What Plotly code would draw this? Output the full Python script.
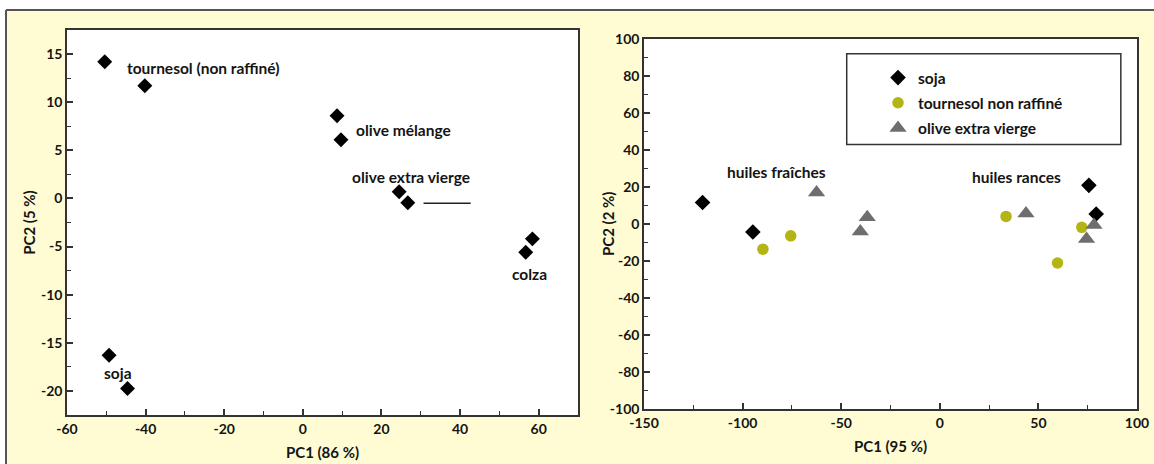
import plotly.graph_objects as go

# ---------------- data: left panel (PCA of oils) ----------------
left_pc1 = [-50.4, -40.2, 8.7, 9.7, 24.5, 26.7, 58.4, 56.7, -49.3, -44.6]
left_pc2 = [14.2, 11.7, 8.6, 6.1, 0.7, -0.45, -4.2, -5.6, -16.3, -19.75]

left_labels = ["tournesol (non raffiné)", "olive mélange", "olive extra vierge", "colza", "soja"]
left_label_x = [-25.4, 25.6, 27.6, 57.6, -47.1]
left_label_y = [13.55, 7.14, 2.18, -7.83, -18.16]

seg_x = [30.7, 42.7]
seg_y = [-0.5, -0.5]

left_xticks = [-60, -40, -20, 0, 20, 40, 60]
left_xticktext = ["-60", "-40", "-20", "0", "20", "40", "60"]
left_yticks = [-20, -15, -10, -5, 0, 5, 10, 15]
left_yticktext = ["-20", "-15", "-10", "-5", "0", "5", "10", "15"]

# ---------------- data: right panel (fresh vs rancid) ----------------
soja_pc1 = [-120.3, -94.8, 75.6, 79.3]
soja_pc2 = [11.6, -4.3, 20.9, 5.4]

tourn_pc1 = [-89.7, -75.6, 33.6, 72.0, 59.7]
tourn_pc2 = [-13.6, -6.4, 4.1, -1.8, -21.1]

olive_pc1 = [-62.5, -36.8, -40.3, 43.7, 78.2, 74.4]
olive_pc2 = [17.0, 3.6, -4.1, 5.7, -0.5, -8.1]

series_names = ["soja", "tournesol non raffiné", "olive extra vierge"]

right_labels = ["huiles fraîches", "huiles rances"]
right_label_x = [-82.6, 39.0]
right_label_y = [28.1, 25.4]

right_xticks = [-150, -100, -50, 0, 50, 100]
right_xticktext = ["-150", "-100", "-50", "0", "50", "100"]
right_yticks = [-100, -80, -60, -40, -20, 0, 20, 40, 60, 80, 100]
right_yticktext = ["-100", "-80", "-60", "-40", "-20", "0", "20", "40", "60", "80", "100"]

# ---------------- styling ----------------
FONT = "Lato"
TXT = "#141414"
FRAME = "#333333"
YELLOW = "#FFFCD4"
BLACK = "#000000"
OLIVE = "#B4B414"
GREY = "#6E6E6E"

W, H = 1154, 464
ML, MR, MT, MB = 67, 17, 30, 49
PW = W - ML - MR
PH = H - MT - MB


def px_x(p):
    return (p - ML) / PW


def px_y(p):
    return 1 - (p - MT) / PH


fig = go.Figure()

fig.add_trace(go.Scatter(
    x=left_pc1, y=left_pc2, mode="markers",
    marker=dict(symbol="diamond", size=11.5, color=BLACK),
    xaxis="x", yaxis="y", showlegend=False, hoverinfo="skip"))

fig.add_trace(go.Scatter(
    x=seg_x, y=seg_y, mode="lines",
    line=dict(color="#222222", width=1.5),
    xaxis="x", yaxis="y", showlegend=False, hoverinfo="skip"))

fig.add_trace(go.Scatter(
    x=soja_pc1, y=soja_pc2, mode="markers", name=series_names[0],
    legendgroup="g1",
    marker=dict(symbol="diamond", size=12, color=BLACK),
    xaxis="x2", yaxis="y2"))
fig.add_trace(go.Scatter(
    x=tourn_pc1, y=tourn_pc2, mode="markers", name=series_names[1],
    legendgroup="g2",
    marker=dict(symbol="circle", size=11.5, color=OLIVE),
    xaxis="x2", yaxis="y2"))
fig.add_trace(go.Scatter(
    x=olive_pc1, y=olive_pc2, mode="markers", name=series_names[2],
    legendgroup="g3",
    marker=dict(symbol="triangle-up", size=15, color=GREY),
    xaxis="x2", yaxis="y2"))

tickfont = dict(family=FONT, size=14, color=TXT, weight="bold")
titlefont = dict(family=FONT, size=15, color=TXT, weight="bold")
labelfont = dict(family=FONT, size=15.5, color=TXT, weight="bold")


def axis(rng, tickvals, ticktext, mdtick, domain, anchor, title, standoff):
    return dict(
        range=rng, domain=domain, anchor=anchor,
        showgrid=False, zeroline=False,
        showline=True, linecolor=FRAME, linewidth=1.5, mirror=True,
        ticks="inside", ticklen=6, tickwidth=1.5, tickcolor=FRAME,
        tickmode="array", tickvals=tickvals, ticktext=ticktext,
        minor=dict(tickmode="linear", dtick=mdtick, tick0=0, ticks="inside",
                   ticklen=4, tickwidth=1.2, tickcolor=FRAME),
        tickfont=tickfont,
        title=dict(text=title, font=titlefont, standoff=standoff),
    )


xd1 = [0, px_x(578)]
xd2 = [px_x(644), 1]
yd2 = [px_y(409), px_y(39)]

annotations = []
for t, x, y in zip(left_labels, left_label_x, left_label_y):
    annotations.append(dict(text=t, x=x, y=y, xref="x", yref="y", showarrow=False,
                            font=labelfont))
for t, x, y in zip(right_labels, right_label_x, right_label_y):
    annotations.append(dict(text=t, x=x, y=y, xref="x2", yref="y2", showarrow=False,
                            font=labelfont))
# right y-axis title placed precisely
annotations.append(dict(text="PC2 (2 %)", x=px_x(608), y=(yd2[0] + yd2[1]) / 2,
                        xref="paper", yref="paper", showarrow=False, textangle=-90,
                        xanchor="center", yanchor="middle", font=titlefont))

shapes = [
    # white page outside the yellow box (top strip and left strip)
    dict(type="rect", xref="paper", yref="paper", x0=px_x(-5), x1=px_x(W + 5),
         y0=px_y(10), y1=px_y(-5), fillcolor="white", line=dict(width=0), layer="below"),
    dict(type="rect", xref="paper", yref="paper", x0=px_x(-5), x1=px_x(6),
         y0=px_y(H + 5), y1=px_y(10), fillcolor="white", line=dict(width=0), layer="below"),
    # box border
    dict(type="line", xref="paper", yref="paper", x0=px_x(6), x1=px_x(W + 5),
         y0=px_y(10), y1=px_y(10), line=dict(color="#555555", width=2)),
    dict(type="line", xref="paper", yref="paper", x0=px_x(6), x1=px_x(6),
         y0=px_y(10), y1=px_y(H + 5), line=dict(color="#555555", width=2)),
    # legend box
    dict(type="rect", xref="x2", yref="y2", x0=-47.2, x1=91.8, y0=43, y1=92,
         fillcolor="white", line=dict(color=FRAME, width=1.5), layer="below"),
]

yaxis2 = axis([-100, 100], right_yticks, right_yticktext, 10, yd2, "x2", "", 0)
yaxis2["title"] = dict(text="")

fig.update_layout(
    width=W, height=H,
    margin=dict(l=ML, r=MR, t=MT, b=MB, autoexpand=False),
    paper_bgcolor=YELLOW, plot_bgcolor="white",
    font=dict(family=FONT, color=TXT),
    xaxis=axis([-60, 70], left_xticks, left_xticktext, 10, xd1, "y", "PC1 (86 %)", 12),
    yaxis=axis([-22.5, 17.5], left_yticks, left_yticktext, 2.5, [0, 1], "x", "PC2 (5 %)", 2),
    xaxis2=axis([-150, 100], right_xticks, right_xticktext, 25, xd2, "y2", "PC1 (95 %)", 12),
    yaxis2=yaxis2,
    legend=dict(x=px_x(878), y=px_y(61), xanchor="left", yanchor="top",
                bgcolor="rgba(0,0,0,0)", borderwidth=0,
                font=labelfont,
                traceorder="grouped", tracegroupgap=2),
    annotations=annotations,
    shapes=shapes,
    showlegend=True,
)

fig.write_html("out.html", config={"displayModeBar": False},
               post_script="document.body.style.margin='0';document.body.style.overflow='hidden';")
